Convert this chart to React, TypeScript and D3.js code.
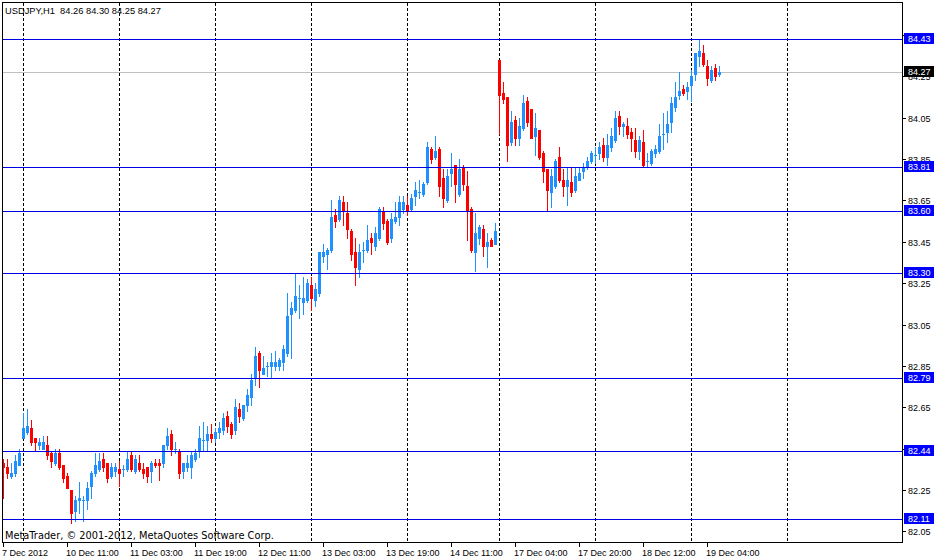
import React from 'react';
import * as d3 from 'd3';

const width = 940;
const height = 560;
const frame = { left: 2, top: 2, right: 902, bottom: 542 };

const symbol = 'USDJPY,H1';

// hourly bars, 7 Dec 2012 19:00 .. 19 Dec 2012 07:00
const opens = [
  82.38, 82.36, 82.32, 82.33, 82.37, 82.50, 82.53, 82.55, 82.50, 82.47,
  82.45, 82.47, 82.43, 82.38, 82.43, 82.37, 82.32, 82.25, 82.15, 82.20,
  82.20, 82.20, 82.27, 82.33, 82.35, 82.40, 82.38, 82.32, 82.34, 82.35,
  82.35, 82.35, 82.42, 82.34, 82.38, 82.35, 82.36, 82.34, 82.38, 82.38,
  82.38, 82.47, 82.52, 82.45, 82.44, 82.34, 82.36, 82.36, 82.40, 82.44,
  82.49, 82.49, 82.52, 82.50, 82.53, 82.54, 82.61, 82.57, 82.54, 82.64,
  82.60, 82.66, 82.70, 82.79, 82.91, 82.81, 82.85, 82.85, 82.85, 82.85,
  82.87, 82.91, 83.10, 83.12, 83.18, 83.16, 83.17, 83.24, 83.17, 83.20,
  83.38, 83.39, 83.41, 83.58, 83.56, 83.64, 83.59, 83.50, 83.40, 83.32,
  83.41, 83.41, 83.47, 83.43, 83.47, 83.60, 83.55, 83.47, 83.55, 83.57,
  83.61, 83.63, 83.61, 83.67, 83.69, 83.68, 83.74, 83.90, 83.86, 83.90,
  83.76, 83.65, 83.78, 83.82, 83.68, 83.81, 83.72, 83.61, 83.40, 83.47,
  83.51, 83.43, 83.46, 83.44, 84.33, 84.17, 84.15, 83.93, 84.04, 83.95,
  84.00, 84.13, 84.09, 83.96, 83.99, 83.88, 83.80, 83.69, 83.72, 83.86,
  83.75, 83.72, 83.74, 83.70, 83.75, 83.79, 83.81, 83.84, 83.87, 83.88,
  83.92, 83.86, 83.91, 83.94, 84.06, 84.01, 84.01, 83.98, 83.94, 83.89,
  83.93, 83.84, 83.83, 83.88, 83.89, 83.97, 83.98, 84.03, 84.10, 84.16,
  84.19, 84.18, 84.21, 84.26, 84.35, 84.36, 84.30, 84.23, 84.29, 84.26,
];
const highs = [
  82.40, 82.40, 82.38, 82.42, 82.45, 82.62, 82.64, 82.59, 82.50, 82.50,
  82.51, 82.51, 82.44, 82.45, 82.45, 82.37, 82.33, 82.25, 82.22, 82.29,
  82.22, 82.29, 82.34, 82.43, 82.43, 82.43, 82.38, 82.38, 82.38, 82.39,
  82.37, 82.44, 82.44, 82.42, 82.42, 82.38, 82.36, 82.39, 82.40, 82.40,
  82.47, 82.55, 82.54, 82.48, 82.45, 82.38, 82.42, 82.44, 82.45, 82.56,
  82.58, 82.56, 82.57, 82.55, 82.58, 82.62, 82.63, 82.58, 82.69, 82.67,
  82.66, 82.74, 82.81, 82.94, 82.92, 82.90, 82.87, 82.91, 82.92, 82.89,
  82.95, 83.20, 83.16, 83.30, 83.24, 83.28, 83.27, 83.28, 83.25, 83.40,
  83.44, 83.42, 83.65, 83.61, 83.67, 83.67, 83.64, 83.51, 83.47, 83.44,
  83.45, 83.53, 83.49, 83.52, 83.62, 83.62, 83.56, 83.59, 83.64, 83.67,
  83.67, 83.67, 83.68, 83.74, 83.75, 83.74, 83.93, 83.91, 83.96, 83.91,
  83.80, 83.80, 83.88, 83.82, 83.85, 83.82, 83.79, 83.62, 83.59, 83.53,
  83.53, 83.49, 83.47, 83.54, 84.33, 84.22, 84.15, 84.08, 84.06, 84.05,
  84.16, 84.15, 84.09, 84.07, 83.99, 83.89, 83.80, 83.80, 83.85, 83.91,
  83.80, 83.81, 83.81, 83.81, 83.81, 83.83, 83.86, 83.89, 83.91, 83.93,
  83.95, 83.97, 84.00, 84.08, 84.08, 84.03, 84.05, 84.00, 84.00, 83.96,
  83.99, 83.88, 83.90, 83.92, 84.02, 84.07, 84.08, 84.15, 84.22, 84.27,
  84.21, 84.22, 84.28, 84.36, 84.43, 84.40, 84.33, 84.30, 84.31, 84.30,
];
const lows = [
  82.21, 82.31, 82.31, 82.32, 82.37, 82.50, 82.52, 82.47, 82.44, 82.45,
  82.45, 82.40, 82.36, 82.37, 82.35, 82.29, 82.26, 82.09, 82.10, 82.14,
  82.10, 82.16, 82.21, 82.32, 82.34, 82.34, 82.29, 82.31, 82.32, 82.27,
  82.32, 82.34, 82.34, 82.33, 82.34, 82.31, 82.29, 82.29, 82.36, 82.30,
  82.36, 82.45, 82.42, 82.43, 82.31, 82.31, 82.34, 82.31, 82.39, 82.41,
  82.44, 82.44, 82.48, 82.48, 82.50, 82.52, 82.53, 82.50, 82.52, 82.58,
  82.59, 82.63, 82.66, 82.76, 82.75, 82.81, 82.80, 82.79, 82.83, 82.83,
  82.83, 82.90, 82.89, 83.11, 83.08, 83.10, 83.16, 83.12, 83.14, 83.19,
  83.35, 83.32, 83.40, 83.52, 83.55, 83.53, 83.47, 83.36, 83.24, 83.28,
  83.35, 83.40, 83.39, 83.41, 83.46, 83.51, 83.44, 83.45, 83.54, 83.53,
  83.59, 83.58, 83.60, 83.63, 83.66, 83.67, 83.73, 83.83, 83.85, 83.67,
  83.62, 83.64, 83.72, 83.64, 83.67, 83.70, 83.46, 83.40, 83.31, 83.44,
  83.38, 83.33, 83.43, 83.44, 83.97, 84.12, 83.84, 83.92, 83.92, 83.92,
  83.99, 84.01, 83.95, 83.87, 83.85, 83.74, 83.60, 83.62, 83.71, 83.74,
  83.67, 83.63, 83.67, 83.69, 83.75, 83.76, 83.80, 83.83, 83.83, 83.85,
  83.84, 83.82, 83.89, 83.93, 83.97, 83.96, 83.95, 83.89, 83.86, 83.85,
  83.81, 83.81, 83.82, 83.86, 83.88, 83.90, 83.93, 83.98, 84.08, 84.14,
  84.16, 84.14, 84.13, 84.23, 84.30, 84.30, 84.21, 84.22, 84.23, 84.25,
];
const closes = [
  82.36, 82.33, 82.33, 82.39, 82.43, 82.55, 82.56, 82.48, 82.48, 82.48,
  82.48, 82.42, 82.39, 82.43, 82.36, 82.31, 82.26, 82.14, 82.20, 82.21,
  82.20, 82.26, 82.33, 82.37, 82.39, 82.36, 82.31, 82.36, 82.36, 82.33,
  82.35, 82.40, 82.35, 82.40, 82.35, 82.33, 82.32, 82.38, 82.37, 82.37,
  82.47, 82.51, 82.45, 82.45, 82.33, 82.38, 82.38, 82.42, 82.43, 82.50,
  82.49, 82.52, 82.50, 82.53, 82.55, 82.60, 82.56, 82.52, 82.65, 82.61,
  82.66, 82.71, 82.78, 82.90, 82.83, 82.84, 82.85, 82.87, 82.87, 82.88,
  82.93, 83.09, 83.13, 83.19, 83.18, 83.18, 83.25, 83.18, 83.22, 83.40,
  83.40, 83.41, 83.57, 83.55, 83.65, 83.60, 83.51, 83.39, 83.33, 83.40,
  83.41, 83.46, 83.45, 83.49, 83.61, 83.54, 83.45, 83.56, 83.57, 83.64,
  83.64, 83.60, 83.66, 83.70, 83.69, 83.73, 83.91, 83.85, 83.89, 83.72,
  83.66, 83.77, 83.80, 83.73, 83.80, 83.73, 83.60, 83.41, 83.49, 83.52,
  83.43, 83.45, 83.43, 83.50, 84.16, 84.14, 83.92, 84.03, 83.95, 84.01,
  84.12, 84.03, 83.95, 84.00, 83.86, 83.79, 83.70, 83.77, 83.84, 83.75,
  83.72, 83.75, 83.69, 83.77, 83.78, 83.81, 83.84, 83.88, 83.87, 83.91,
  83.86, 83.92, 83.96, 84.05, 84.01, 84.02, 83.97, 83.95, 83.89, 83.94,
  83.82, 83.84, 83.89, 83.90, 83.96, 83.97, 84.02, 84.12, 84.15, 84.18,
  84.17, 84.20, 84.25, 84.36, 84.37, 84.31, 84.24, 84.28, 84.25, 84.27,
];

// first bar of each trading day (10 Dec .. 20 Dec)
const dayStarts = [5, 29, 53, 77, 101, 124, 148, 172, 196];

// time scale labels, one every 16 bars
const timeLabels = [
  '7 Dec 2012', '10 Dec 11:00', '11 Dec 03:00', '11 Dec 19:00', '12 Dec 11:00',
  '13 Dec 03:00', '13 Dec 19:00', '14 Dec 11:00', '17 Dec 04:00', '17 Dec 20:00',
  '18 Dec 12:00', '19 Dec 04:00',
];
const timeLabelStep = 16;

const priceTicks = [84.45, 84.25, 84.05, 83.85, 83.65, 83.45, 83.25, 83.05, 82.85, 82.65, 82.45, 82.25, 82.05];
const levels = [84.43, 83.81, 83.60, 83.30, 82.79, 82.44, 82.11];

const bullColor = '#1e90ff';
const bearColor = '#ff0000';
const levelColor = '#0000e6';
const axisFont = '"Liberation Sans", Arial, sans-serif';

const App = () => {
  const n = closes.length;
  const x = d3.scaleLinear().domain([0, n - 1]).range([3, 3 + 4 * (n - 1)]);
  const y = d3.scaleLinear().domain([levels[levels.length - 1], levels[0]]).range([519, 39]);
  const row = (p: number) => Math.round(y(p));
  const fmt = d3.format('.2f');
  const last = n - 1;
  const bid = closes[last];

  return (
    <svg
      width={width}
      height={height}
      style={{ position: 'absolute', left: 0, top: 0, background: '#fff' }}
      shapeRendering="crispEdges"
    >
      <rect x={0} y={0} width={width} height={height} fill="#fff" />

      {dayStarts.map((d) => (
        <line
          key={'d' + d}
          x1={x(d) + 0.5}
          x2={x(d) + 0.5}
          y1={frame.top + 1}
          y2={frame.bottom}
          stroke="#000"
          strokeDasharray="3,2"
        />
      ))}

      <rect x={frame.left + 1} y={row(bid)} width={frame.right - frame.left - 1} height={1} fill="#c0c0c0" />

      {closes.map((c, i) => {
        const o = opens[i];
        const col = Math.round(x(i));
        const color = c >= o ? bullColor : bearColor;
        const yh = row(highs[i]);
        const yl = row(lows[i]);
        const yo = row(o);
        const yc = row(c);
        const top = Math.min(yo, yc);
        return (
          <g key={i} fill={color}>
            <rect x={col} y={yh} width={1} height={yl - yh + 1} />
            <rect x={col - 1} y={top} width={3} height={Math.abs(yo - yc) + 1} />
          </g>
        );
      })}

      {levels.map((p) => (
        <rect key={'l' + p} x={frame.left + 1} y={row(p)} width={frame.right - frame.left - 1} height={1} fill={levelColor} />
      ))}

      <rect
        x={frame.left + 0.5}
        y={frame.top + 0.5}
        width={frame.right - frame.left}
        height={frame.bottom - frame.top}
        fill="none"
        stroke="#000"
      />

      <g fontFamily={axisFont} fontSize={9} fill="#000">
        {priceTicks.map((p) => (
          <g key={'t' + p}>
            <rect x={frame.right + 1} y={row(p)} width={3} height={1} />
            <text x={908} y={row(p) + 3.5}>{fmt(p)}</text>
          </g>
        ))}
        {timeLabels.map((t, k) => {
          const col = Math.round(x(k * timeLabelStep));
          return (
            <g key={t}>
              <rect x={col} y={frame.bottom + 1} width={1} height={4} />
              <text x={col - 1} y={556}>{t}</text>
            </g>
          );
        })}
      </g>

      <g fontFamily={axisFont} fontSize={9}>
        {levels.map((p) => (
          <g key={'b' + p}>
            <rect x={904} y={row(p) - 6} width={30} height={11} fill="#0000ff" />
            <text x={908} y={row(p) + 2.5} fill="#fff">{fmt(p)}</text>
          </g>
        ))}
        <rect x={904} y={row(bid) - 6} width={30} height={11} fill="#000" />
        <text x={908} y={row(bid) + 2.5} fill="#fff">{fmt(bid)}</text>
      </g>

      <text x={5} y={13.5} fontFamily={axisFont} fontSize={9.3} fill="#000" style={{ whiteSpace: 'pre' }}>
        {`${symbol}  ${fmt(opens[last])} ${fmt(highs[last])} ${fmt(lows[last])} ${fmt(closes[last])}`}
      </text>
      <text x={5} y={538.5} fontFamily='"DejaVu Sans", sans-serif' fontSize={9.8} fill="#000">
        MetaTrader, © 2001-2012, MetaQuotes Software Corp.
      </text>
    </svg>
  );
};

export default App;
